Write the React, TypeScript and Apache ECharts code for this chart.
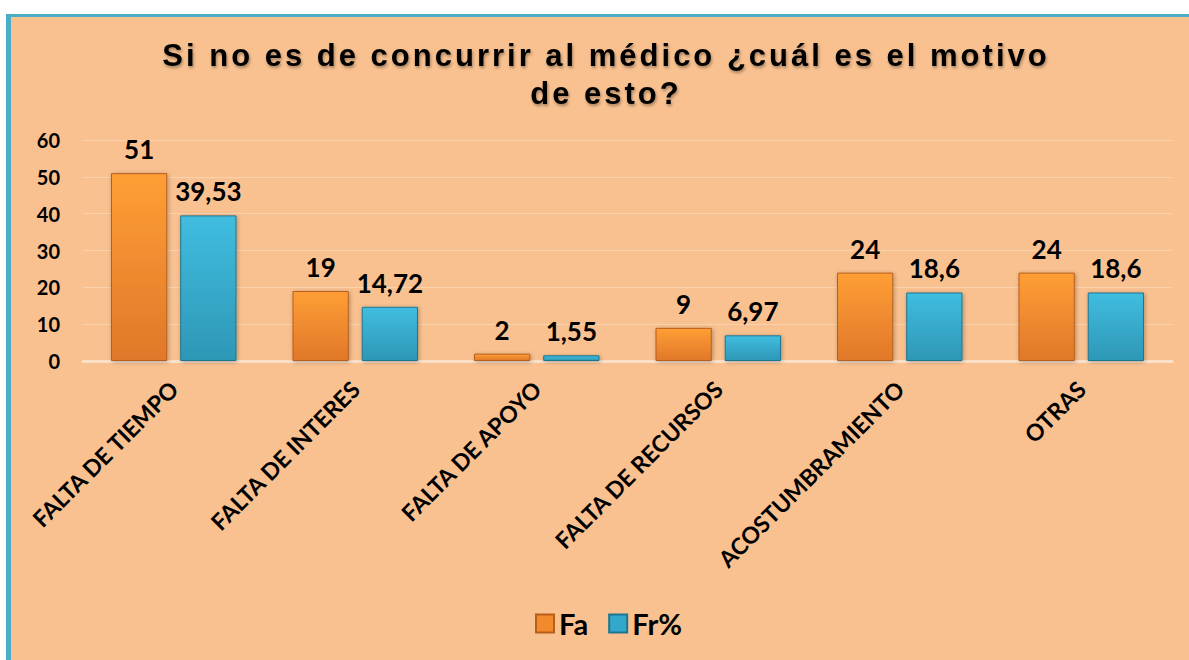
import React, { useEffect, useRef } from "react";
import * as echarts from "echarts";

const categories = [
  "FALTA DE TIEMPO",
  "FALTA DE INTERES",
  "FALTA DE APOYO",
  "FALTA DE RECURSOS",
  "ACOSTUMBRAMIENTO",
  "OTRAS",
];
const faValues = [51, 19, 2, 9, 24, 24];
const frValues = [39.53, 14.72, 1.55, 6.97, 18.6, 18.6];
const titleLines = ["Si no es de concurrir al médico ¿cuál es el motivo", "de esto?"];

const FONT = "Lato, 'Open Sans', sans-serif";

export default function App() {
  const ref = useRef<HTMLDivElement>(null);
  useEffect(() => {
    if (!ref.current) return;
    const chart = echarts.init(ref.current, undefined, { renderer: "svg" });
    const orange = new echarts.graphic.LinearGradient(0, 0, 0, 1, [
      { offset: 0, color: "#FF9E35" },
      { offset: 1, color: "#E0782A" },
    ]);
    const blue = new echarts.graphic.LinearGradient(0, 0, 0, 1, [
      { offset: 0, color: "#40BDE0" },
      { offset: 1, color: "#2E97B6" },
    ]);
    const fmt = (p: any) => String(p.value).replace(".", ",");
    const titleStyle = {
      font: "bold 31px 'Liberation Sans', Arial, sans-serif",
      fill: "#000",
      textAlign: "center",
      textVerticalAlign: "middle",
      textShadowColor: "rgba(0,0,0,0.35)",
      textShadowBlur: 3,
      textShadowOffsetX: 1,
      textShadowOffsetY: 2,
    };
    chart.setOption({
      animation: false,
      backgroundColor: "#ffffff",
      graphic: [
        { type: "rect", shape: { x: 6, y: 14, width: 1183, height: 646 }, style: { fill: "#F9C190" }, z: -10 },
        { type: "rect", shape: { x: 6, y: 14, width: 5, height: 646 }, style: { fill: "#4BAEC8" }, z: -9 },
        { type: "rect", shape: { x: 6, y: 14, width: 1183, height: 3 }, style: { fill: "#4BAEC8" }, z: -9 },
        { type: "text", x: 606, y: 55, style: { ...titleStyle, text: titleLines[0] }, z: 10 },
        { type: "text", x: 606, y: 93, style: { ...titleStyle, text: titleLines[1] }, z: 10 },
      ],
      grid: { left: 83, right: 17, top: 140, bottom: 299, containLabel: false },
      legend: {
        bottom: 17,
        left: 530,
        itemWidth: 18,
        itemHeight: 18,
        itemGap: 20,
        textStyle: { fontFamily: FONT, fontWeight: "bold", fontSize: 29, color: "#000" },
        data: [
          { name: "Fa", icon: "rect", itemStyle: { color: "#F08A2A" } },
          { name: "Fr%", icon: "rect", itemStyle: { color: "#33A8CB" } },
        ],
      },
      xAxis: {
        type: "category",
        data: categories,
        axisLine: { show: true, lineStyle: { color: "#FBE0C8", width: 3 } },
        axisTick: { show: false },
        axisLabel: {
          rotate: 45,
          margin: 24,
          interval: 0,
          fontFamily: FONT,
          fontWeight: "bold",
          fontSize: 23,
          color: "#000",
        },
      },
      yAxis: {
        type: "value",
        min: 0,
        max: 60,
        interval: 10,
        axisLine: { show: false },
        axisTick: { show: false },
        splitLine: { lineStyle: { color: "#FAD3AE", width: 1 } },
        axisLabel: { margin: 23, fontFamily: FONT, fontWeight: "bold", fontSize: 20, color: "#000" },
      },
      series: [
        {
          name: "Fa",
          type: "bar",
          data: faValues,
          barWidth: "31%",
          barGap: "23%",
          itemStyle: { color: orange, borderColor: "#B85E1C", borderWidth: 1, shadowColor: "rgba(0,0,0,0.3)", shadowBlur: 4, shadowOffsetX: 1, shadowOffsetY: 1 },
          label: { show: true, position: "top", distance: 11, formatter: fmt, fontFamily: FONT, fontWeight: "bold", fontSize: 26, color: "#000" },
        },
        {
          name: "Fr%",
          type: "bar",
          data: frValues,
          barWidth: "31%",
          barGap: "23%",
          itemStyle: { color: blue, borderColor: "#1F7590", borderWidth: 1, shadowColor: "rgba(0,0,0,0.3)", shadowBlur: 4, shadowOffsetX: 1, shadowOffsetY: 1 },
          label: { show: true, position: "top", distance: 11, formatter: fmt, fontFamily: FONT, fontWeight: "bold", fontSize: 26, color: "#000" },
        },
      ],
    });
    // widen the title's letter spacing like the reference
    const texts = ref.current.querySelectorAll("text");
    texts.forEach((t) => {
      if (titleLines.includes((t.textContent || "").trim())) {
        t.setAttribute("letter-spacing", "3px");
      }
    });
    return () => chart.dispose();
  }, []);
  return (
    <div
      ref={ref}
      style={{ position: "absolute", left: 0, top: 0, width: 1189, height: 660 }}
    />
  );
}
